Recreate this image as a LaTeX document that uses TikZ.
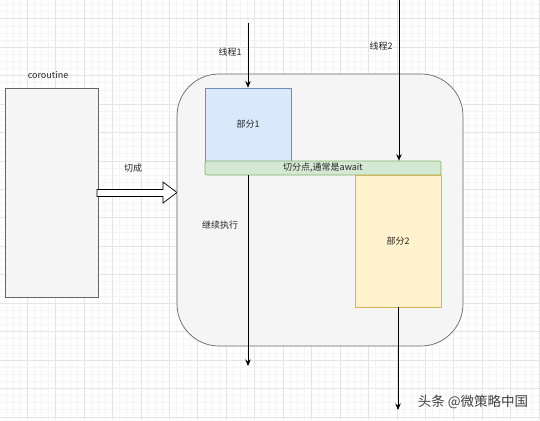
\documentclass[tikz,border=0pt]{standalone}
\usepackage{fontspec}
\setmainfont{Noto Sans CJK SC}
\usepackage{xcolor}
\usepackage{tikz}
\usetikzlibrary{arrows.meta}

\definecolor{boxgray}{HTML}{F5F5F5}
\definecolor{edgegray}{HTML}{666666}
\definecolor{partblue}{HTML}{DAE8FC}
\definecolor{edgeblue}{HTML}{6C8EBF}
\definecolor{partyellow}{HTML}{FFF2CC}
\definecolor{edgeyellow}{HTML}{D6B656}
\definecolor{cutgreen}{HTML}{D5E8D4}
\definecolor{edgegreen}{HTML}{82B366}

\begin{document}
\begin{tikzpicture}[x=1pt, y=-1pt,
    every node/.style={font=\fontsize{9}{11}\selectfont, text=black!85},
    gridminor/.style={line width=0.4pt, black!4},
    gridmajor/.style={line width=0.5pt, black!10},
    block/.style={draw, line width=0.7pt, inner sep=0pt},
    flow/.style={line width=0.7pt, -{Stealth[length=6.5pt, width=5.5pt]}}]
  \useasboundingbox (0,0) rectangle (540,420);
  \fill[white] (0,0) rectangle (540,420);

  % --- background grid ---
  \foreach \i in {0,...,76} \draw[gridminor] ({-1.4+7.11*\i},0) -- ++(0,420);
  \foreach \i in {0,...,60} \draw[gridminor] (0,{-2.73+7.11*\i}) -- ++(540,0);
  \foreach \i in {0,...,19} \draw[gridmajor] ({-1.4+28.44*\i},0) -- ++(0,420);
  \foreach \i in {0,...,15} \draw[gridmajor] (0,{-9.84+28.44*\i}) -- ++(540,0);

  % --- coroutine side ---
  \node[block, draw=edgegray, fill=boxgray, minimum width=93pt, minimum height=209pt]
    (cor) at (51.5,192.5) {};
  \node (corlabel) at (48,75) {coroutine};
  % hollow switch arrow
  \draw[line width=0.7pt, fill=white]
    (97,189.5) -- (163,189.5) -- (163,182) -- (177,192.5) -- (163,203)
    -- (163,196.5) -- (97,196.5) -- cycle;
  \node (switch) at (133,168) {切成};

  % --- container with the two parts ---
  \node[block, draw=edgegray, fill=boxgray, rounded corners=42pt,
    minimum width=286pt, minimum height=272pt] (ctr) at (320,210) {};
  \node[block, draw=edgeblue, fill=partblue, minimum width=86pt, minimum height=73pt]
    (part1) at (248,124.5) {部分1};
  \node[block, draw=edgegreen, fill=cutgreen, rounded corners=2pt,
    minimum width=236pt, minimum height=14pt] (cut) at (323,168) {切分点,通常是await};
  \node[block, draw=edgeyellow, fill=partyellow, minimum width=86pt, minimum height=132pt]
    (part2) at (398,241) {部分2};

  % --- threads ---
  \coordinate (t1) at (248,23);
  \coordinate (t2) at (399,0);
  \coordinate (end1) at (248,366);
  \coordinate (end2) at (398,410);
  \draw[flow] (t1) -- (part1);
  \node (thread1) at (230,52) {线程1};
  \draw[flow] (t2) -- (t2 |- cut.north);
  \node (thread2) at (381,46) {线程2};
  \draw[flow] (cut.south -| t1) -- (end1);
  \node (cont) at (220,225) {继续执行};
  \draw[flow] (part2) -- (end2);

  % watermark
  \node[font=\fontsize{13.5}{15}\selectfont, text=black!75] (mark) at (473,402) {头条 @微策略中国};
\end{tikzpicture}
\end{document}
